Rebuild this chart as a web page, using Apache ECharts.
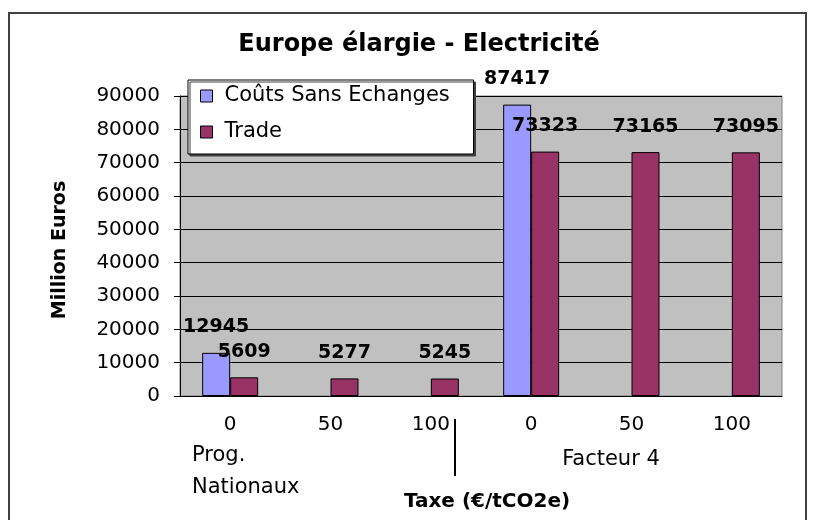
<!DOCTYPE html>
<html>
<head>
<meta charset="utf-8">
<script src="https://cdn.jsdelivr.net/npm/echarts@6/dist/echarts.min.js"></script>
<style>
  html, body { margin: 0; padding: 0; background: #fff; }
  #echarts { width: 818px; height: 520px; }
</style>
</head>
<body>
<div id="echarts"></div>
<script>
// données
var taxeData = ['0', '50', '100', '0', '50', '100'];
var groupData = ['Prog.\nNationaux', 'Facteur 4'];
var coutsData = [12945, null, null, 87417, null, null];
var tradeData = [5609, 5277, 5245, 73323, 73165, 73095];
var yTicks = [0, 10000, 20000, 30000, 40000, 50000, 60000, 70000, 80000, 90000];

var font = 'DejaVu Sans';

var option = {
    animation: false,
    backgroundColor: '#fff',
    grid: {
        left: 180,
        right: 36,
        top: 96,
        bottom: 124,
        show: true,
        backgroundColor: '#C0C0C0',
        borderColor: '#808080',
        borderWidth: 1
    },
    legend: {
        data: ['Coûts Sans Echanges', 'Trade'],
        orient: 'vertical',
        left: 188,
        top: 80,
        padding: [4, 8, 10, 12],
        itemGap: 12,
        itemWidth: 12,
        itemHeight: 12,
        icon: 'rect',
        backgroundColor: '#fff',
        borderColor: '#000',
        borderWidth: 1,
        shadowColor: '#404040',
        shadowOffsetX: 2,
        shadowOffsetY: 2,
        itemStyle: {
            borderColor: '#000',
            borderWidth: 1
        },
        textStyle: {
            fontFamily: font,
            fontSize: 21,
            color: '#000',
            lineHeight: 24,
            width: 241,
            padding: [0, 0, 0, 7]
        }
    },
    xAxis: [
        {
            type: 'category',
            data: taxeData,
            axisLine: { lineStyle: { color: '#000', width: 1 } },
            axisTick: { length: 6, lineStyle: { color: '#000' } },
            axisLabel: {
                margin: 19,
                fontFamily: font,
                fontSize: 20,
                color: '#000'
            }
        }
    ],
    yAxis: [
        {
            type: 'value',
            min: 0,
            max: yTicks[yTicks.length - 1],
            interval: yTicks[1] - yTicks[0],
            axisLine: { show: true, lineStyle: { color: '#000', width: 1 } },
            axisTick: { show: true, length: 6, lineStyle: { color: '#000' } },
            splitLine: { lineStyle: { color: '#000', width: 1 } },
            axisLabel: {
                margin: 20,
                fontFamily: font,
                fontSize: 20,
                color: '#000',
                formatter: function (v) { return String(v); }
            }
        }
    ],
    series: [
        {
            name: 'Coûts Sans Echanges',
            type: 'bar',
            data: coutsData,
            barWidth: 28,
            barGap: '0%',
            itemStyle: { color: '#9999FF', borderColor: '#000', borderWidth: 1 },
            label: {
                show: true,
                position: 'top',
                distance: 16,
                fontFamily: font,
                fontWeight: 'bold',
                fontSize: 19,
                color: '#000'
            }
        },
        {
            name: 'Trade',
            type: 'bar',
            data: tradeData,
            barWidth: 28,
            barGap: '0%',
            itemStyle: { color: '#993366', borderColor: '#000', borderWidth: 1 },
            label: {
                show: true,
                position: 'top',
                distance: 16,
                fontFamily: font,
                fontWeight: 'bold',
                fontSize: 19,
                color: '#000'
            }
        }
    ],
    graphic: [
        // cadre du graphique
        {
            type: 'rect',
            shape: { x: 9, y: 13, width: 797, height: 530 },
            style: { fill: 'none', stroke: '#404040', lineWidth: 2 },
            z: 100
        },
        {
            type: 'text',
            x: 419, y: 45,
            style: {
                text: 'Europe élargie - Electricité',
                fontFamily: font, fontWeight: 'bold', fontSize: 24,
                fill: '#000', align: 'center', verticalAlign: 'middle'
            }
        },
        {
            type: 'text',
            x: 60, y: 250,
            rotation: Math.PI / 2,
            style: {
                text: 'Million Euros',
                fontFamily: font, fontWeight: 'bold', fontSize: 19,
                fill: '#000', align: 'center', verticalAlign: 'middle'
            }
        },
        {
            type: 'text',
            x: 487, y: 502,
            style: {
                text: 'Taxe (€/tCO2e)',
                fontFamily: font, fontWeight: 'bold', fontSize: 20,
                fill: '#000', align: 'center', verticalAlign: 'middle'
            }
        },
        // libellés de groupe
        {
            type: 'text',
            x: 192, y: 440,
            style: {
                text: groupData[0],
                fontFamily: font, fontSize: 21, lineHeight: 32,
                fill: '#000', align: 'left', verticalAlign: 'top'
            }
        },
        {
            type: 'text',
            x: 611, y: 460,
            style: {
                text: groupData[1],
                fontFamily: font, fontSize: 21,
                fill: '#000', align: 'center', verticalAlign: 'middle'
            }
        },
        {
            type: 'line',
            shape: { x1: 455, y1: 419, x2: 455, y2: 476 },
            style: { stroke: '#000', lineWidth: 2 }
        }
    ]
};

var chart = echarts.init(document.querySelector('#echarts'));
chart.setOption(option);
</script>
</body>
</html>
